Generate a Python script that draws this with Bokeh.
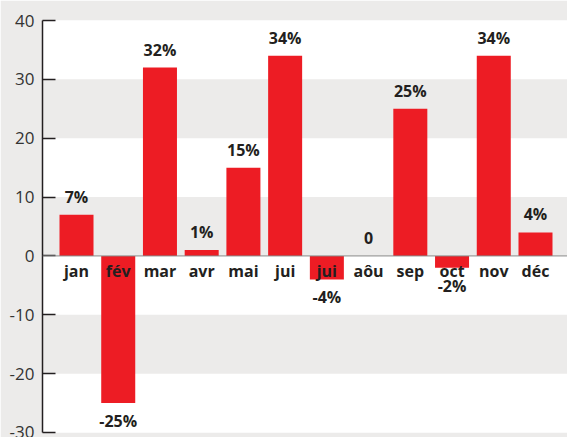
from bokeh.plotting import figure
from bokeh.models import ColumnDataSource, Span, FixedTicker, Range1d, PrintfTickFormatter
from bokeh.core.properties import value
from bokeh.embed import file_html
from bokeh.resources import INLINE

months = ["jan", "fév", "mar", "avr", "mai", "jui", "jui", "aôu", "sep", "oct", "nov", "déc"]
values = [7, -25, 32, 1, 15, 34, -4, 0, 25, -2, 34, 4]
y_ticks = [-30, -20, -10, 0, 10, 20, 30, 40]

RED = "#ed1c24"
GREY = "#ecebea"
TXT = "#231f20"
FONT = "Open Sans"

xs = list(range(len(months)))
labels = [f"{v}%" if v != 0 else "0" for v in values]
pos_idx = [i for i, v in enumerate(values) if v >= 0]
neg_idx = [i for i, v in enumerate(values) if v < 0]

src = ColumnDataSource(dict(x=xs, top=values, month=months, label=labels))
pos = ColumnDataSource(dict(x=[xs[i] for i in pos_idx], y=[values[i] for i in pos_idx],
                            label=[labels[i] for i in pos_idx]))
neg = ColumnDataSource(dict(x=[xs[i] for i in neg_idx], y=[values[i] for i in neg_idx],
                            label=[labels[i] for i in neg_idx]))

p = figure(width=567, height=437, output_backend="svg", toolbar_location=None,
           x_range=Range1d(-0.815, 11.767), y_range=Range1d(-30, 40),
           min_border_left=42, min_border_right=0, min_border_top=20, min_border_bottom=5)
p.background_fill_color = "white"
p.border_fill_color = GREY
p.outline_line_color = None

p.xaxis.visible = False
p.xgrid.visible = False
p.ygrid.grid_line_color = None
p.ygrid.band_fill_color = GREY
p.ygrid.band_fill_alpha = 1.0
p.ygrid.ticker = FixedTicker(ticks=y_ticks)

ax = p.yaxis[0]
ax.ticker = FixedTicker(ticks=y_ticks)
ax.formatter = PrintfTickFormatter(format="%d")
ax.axis_line_color = TXT
ax.axis_line_width = 1.5
ax.major_tick_line_color = TXT
ax.major_tick_line_width = 1.5
ax.major_tick_in = 13
ax.major_tick_out = 0
ax.minor_tick_line_color = None
ax.major_label_text_font = FONT
ax.major_label_text_font_size = "17px"
ax.major_label_text_color = "#333333"
ax.major_label_standoff = 8

p.add_layout(Span(location=0, dimension="width", line_color="#8a8a8a", line_width=1))

p.vbar(x="x", top="top", bottom=0, width=0.815, source=src, fill_color=RED, line_color=None)

p.text(x="x", y=0, text="month", source=src, text_font=value(FONT), text_font_style="bold",
       text_font_size="16px", text_color=TXT, text_align="center", text_baseline="alphabetic",
       y_offset=15)
p.text(x="x", y="y", text="label", source=pos, text_font=value(FONT), text_font_style="bold",
       text_font_size="16px", text_color=TXT, text_align="center", text_baseline="alphabetic",
       y_offset=-18)
p.text(x="x", y="y", text="label", source=neg, text_font=value(FONT), text_font_style="bold",
       text_font_size="16px", text_color=TXT, text_align="center", text_baseline="alphabetic",
       y_offset=18)

open("out.html", "w").write(file_html(p, INLINE))
